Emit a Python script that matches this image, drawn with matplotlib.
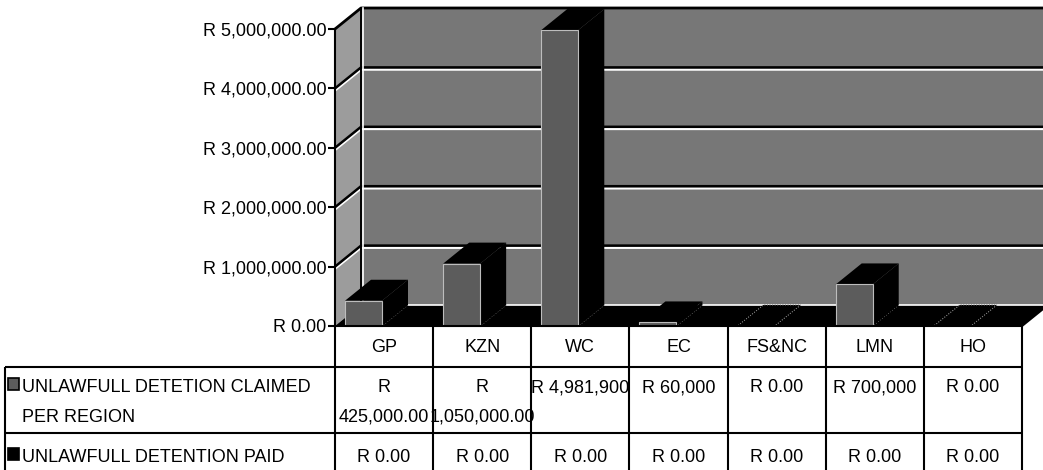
import matplotlib
matplotlib.use("Agg")
import matplotlib.pyplot as plt
from matplotlib.patches import Polygon, Rectangle
from matplotlib.ticker import FuncFormatter
import matplotlib.patheffects as pe

plt.rcParams['font.family'] = ['Liberation Sans', 'DejaVu Sans']

# ---- data -------------------------------------------------------------
regions = ["GP", "KZN", "WC", "EC", "FS&NC", "LMN", "HO"]
claimed = [425000.00, 1050000.00, 4981900.00, 60000.00, 0.00, 700000.00, 0.00]
paid = [0.00, 0.00, 0.00, 0.00, 0.00, 0.00, 0.00]
claimed_text = ["R\n425,000.00", "R\n1,050,000.00", "R 4,981,900", "R 60,000",
                "R 0.00", "R 700,000", "R 0.00"]
paid_text = ["R 0.00", "R 0.00", "R 0.00", "R 0.00", "R 0.00", "R 0.00", "R 0.00"]
series_names = ["UNLAWFULL DETETION CLAIMED\nPER REGION", "UNLAWFULL DETENTION PAID"]
y_ticks = [0, 1000000, 2000000, 3000000, 4000000, 5000000]

# ---- layout -----------------------------------------------------------
W, H = 1043, 470
fig = plt.figure(figsize=(W / 100, H / 100), dpi=100)
fig.patch.set_facecolor("white")

X0, X1 = 335, 1022        # front plane, pixels
YB, YT = 326, 29
N = len(regions)
YMAX = 5000000
colw = (X1 - X0) / N
ax = fig.add_axes([X0 / W, 1 - YB / H, (X1 - X0) / W, (YB - YT) / H])
ax.set_xlim(0, N)
ax.set_ylim(0, YMAX)
ax.patch.set_visible(False)

# oblique depth of the floor / walls in data units
DX = 26 / colw
DY = 21 * YMAX / (YB - YT)

WALL = "#777777"
SIDE = "#9c9c9c"
FACE = "#5c5c5c"

def poly(pts, fc, ec="none", lw=0, z=1, ls="-"):
    p = Polygon(pts, closed=True, facecolor=fc, edgecolor=ec, linewidth=lw,
                zorder=z, clip_on=False, transform=ax.transData, linestyle=ls)
    ax.add_patch(p)
    return p

# back wall, side wall, floor
poly([(DX, DY), (N + DX + 0.3, DY), (N + DX + 0.3, YMAX + DY), (DX, YMAX + DY)], WALL, z=1)
poly([(0, 0), (DX, DY), (DX, YMAX + DY), (0, YMAX)], SIDE, z=1)
poly([(0, 0), (N, 0), (N + DX, DY), (DX, DY)], "black", z=2)

# gridlines on the walls (black with a white highlight below)
shadow = [pe.SimpleLineShadow(offset=(0, -1.6), shadow_color="white", alpha=1.0, linewidth=1.6),
          pe.Normal()]
for v in y_ticks[1:-1]:
    ax.plot([0, DX, N + DX + 0.3], [v, v + DY, v + DY], color="black", lw=1.8,
            zorder=3, clip_on=False, path_effects=shadow, solid_capstyle="butt")
# top edge and back corner
ax.plot([0, DX, N + DX + 0.3], [YMAX, YMAX + DY, YMAX + DY], color="black", lw=2,
        zorder=3, clip_on=False)
ax.plot([DX, DX], [DY, YMAX + DY], color="black", lw=1.4, zorder=3, clip_on=False,
        path_effects=[pe.SimpleLineShadow(offset=(1.4, 0), shadow_color="white", alpha=1.0,
                                          linewidth=1.2), pe.Normal()])
ax.plot([DX, N + DX + 0.3], [DY, DY], color="white", lw=1.2, zorder=2.5, clip_on=False)

# bars: paid series behind, claimed series in front
BL, BR = 10 / colw, 47 / colw
def bar3d(i, v, z, face):
    l, r = i + BL, i + BR
    if v > 0:
        poly([(r, 0), (r, v), (r + DX, v + DY), (r + DX, DY)], "black", z=z)
        poly([(l, v), (r, v), (r + DX, v + DY), (l + DX, v + DY)], "black", z=z)
        poly([(l, 0), (r, 0), (r, v), (l, v)], face, ec="#bdbdbd", lw=0.8, z=z + 0.1)
    else:
        poly([(l, 0), (r, 0), (r + DX, DY), (l + DX, DY)], "black", ec="#8c8c8c",
             lw=0.7, z=z, ls=":")

for i, v in enumerate(paid):
    bar3d(i, v, 4, "black")
for i, v in enumerate(claimed):
    bar3d(i, v, 5, FACE)

# right edge of the floor
ax.plot([N, N + DX], [0, DY], color="black", lw=1.5, zorder=6, clip_on=False)

# axes and ticks
for s in ["top", "right", "bottom"]:
    ax.spines[s].set_visible(False)
ax.spines["left"].set_linewidth(1.5)
ax.spines["left"].set_zorder(7)
ax.set_xticks([])
ax.set_yticks(y_ticks)
ax.yaxis.set_major_formatter(FuncFormatter(lambda v, _: f"R {v:,.2f}"))
fs = 13
ax.tick_params(axis="y", length=5, width=1.5, pad=1, labelsize=fs, colors="black")

# ---- data table -------------------------------------------------------
TL = 5
tax = fig.add_axes([TL / W, 0, (X1 - TL) / W, (H - YB) / H])
left = -(X0 - TL) / colw
tax.set_xlim(left, N)
tax.set_ylim(H - YB, 0)
tax.axis("off")

R1, R2 = 41, 107           # row boundaries (pixels below the floor edge)
BOT = H - YB + 4
lk = dict(color="black", lw=1.5, clip_on=False, solid_capstyle="butt")
tax.plot([0, N], [0, 0], **lk)
for k in range(N + 1):
    tax.plot([k, k], [0, BOT], **lk)
tax.plot([left, N], [R1, R1], **lk)
tax.plot([left, N], [R2, R2], **lk)
tax.plot([left, left], [R1, BOT], **lk)

for i, name in enumerate(regions):
    tax.text(i + 0.5, 21, name, ha="center", va="center", fontsize=fs)

def cell_text(i, label, y0):
    clip = Rectangle((i, R1), 1, BOT - R1, transform=tax.transData)
    for j, line in enumerate(label.split("\n")):
        t = tax.text(i + 0.5, y0 + 29 * j, line, ha="center", va="center", fontsize=fs)
        t.set_clip_path(clip)

for i, lab in enumerate(claimed_text):
    cell_text(i, lab, 62)
for i, lab in enumerate(paid_text):
    cell_text(i, lab, 131)

# series labels with legend keys
px = 1 / colw
tax.add_patch(Rectangle((left + 3 * px, 52), 11 * px, 12, facecolor=FACE,
                        edgecolor="black", lw=1.2, clip_on=False))
tax.add_patch(Rectangle((left + 3 * px, 122), 11 * px, 12, facecolor="black",
                        edgecolor="black", lw=1.2, clip_on=False))
for j, line in enumerate(series_names[0].split("\n")):
    tax.text(left + 17 * px, 62 + 29 * j, line, ha="left", va="center", fontsize=fs)
tax.text(left + 17 * px, 131, series_names[1], ha="left", va="center", fontsize=fs)

fig.savefig("out.png", dpi=100, facecolor="white")
